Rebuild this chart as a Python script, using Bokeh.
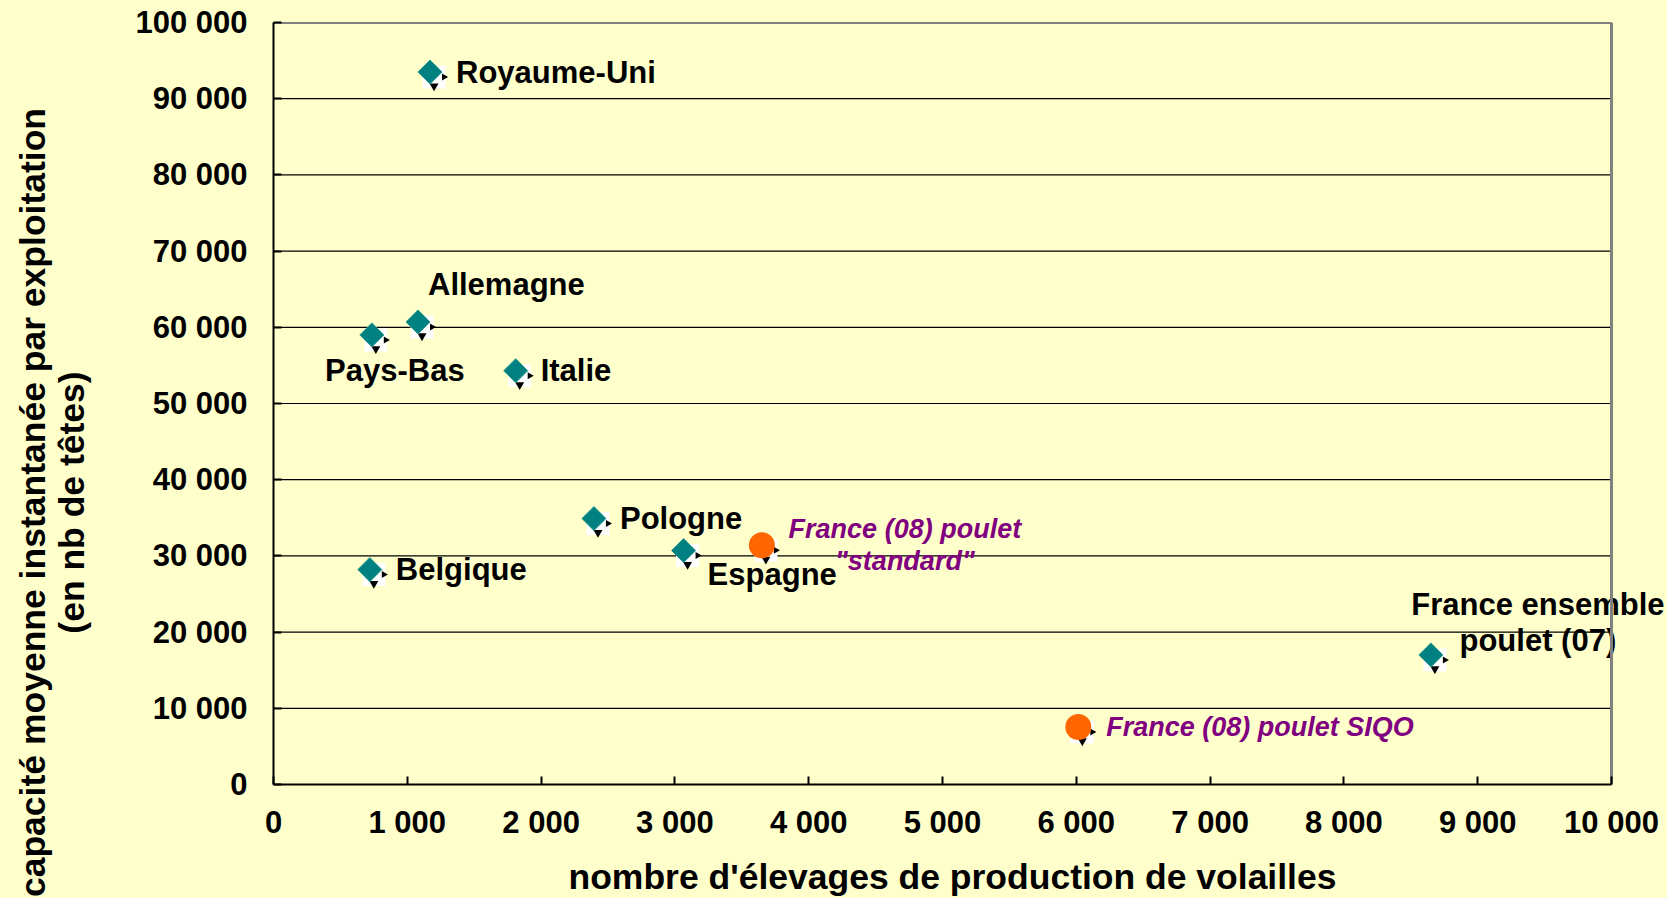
import numpy as np
from bokeh.plotting import figure
from bokeh.layouts import row, column
from bokeh.models import ColumnDataSource, Range1d, FixedTicker
from bokeh.transform import dodge
from bokeh.core.properties import value
from bokeh.embed import file_html
from bokeh.resources import INLINE

# ---------------- data ----------------
countries = ["Royaume-Uni", "Allemagne", "Pays-Bas", "Italie", "Pologne",
             "Espagne", "Belgique", "France ensemble\npoulet (07)"]
elevages = [1170, 1080, 735, 1810, 2395, 3065, 720, 8650]
capacite = [93500, 60700, 59000, 54300, 34900, 30700, 28200, 17000]

france_labels = ["France (08) poulet\n\"standard\"", "France (08) poulet SIQO"]
france_elevages = [3650, 6015]
france_capacite = [31400, 7550]

x_ticks = list(range(0, 10001, 1000))
y_ticks = list(range(0, 100001, 10000))

x_title = "nombre d'élevages de production de volailles"
y_title = "capacité moyenne instantanée par exploitation\n(en nb de têtes)"

# ---------------- label placement (pixels, +y = down) ----------------
c_dx = [26, 10, 23, 25, 26, 24, 26, 107]
c_dy = [0, -37, 36, 0, 0, 24, 0, -32]
c_align = ["left", "left", "center", "left", "left", "left", "left", "center"]
f_dx = [143, 28]
f_dy = [0, 0]
f_align = ["center", "left"]

BG = "#FFFFCC"
FONT = "Liberation Sans"

# ---------------- layout geometry ----------------
TOTAL_W, TOTAL_H = 1667, 898
LEFT_W = 100            # strip holding the y title
BOTTOM_H = 50           # strip holding the x title
MAIN_W = TOTAL_W - LEFT_W
MAIN_H = TOTAL_H - BOTTOM_H
ML, MT, MB = 173, 22, 64
FW = MAIN_W - ML        # frame runs to the right edge (labels overflow the box)
FH = MAIN_H - MT - MB
BOX_W = 1338            # width of the plotted box (0..10 000)

x0, xb = x_ticks[0], x_ticks[-1]
y0, y1 = y_ticks[0], y_ticks[-1]
px_x = (xb - x0) / BOX_W
px_y = (y1 - y0) / FH
x1 = x0 + FW * px_x

p = figure(width=MAIN_W, height=MAIN_H, output_backend="svg", toolbar_location=None,
           x_range=Range1d(x0, x1), y_range=Range1d(y0, y1),
           min_border_left=ML, min_border_right=0, min_border_top=MT, min_border_bottom=MB)
p.background_fill_color = BG
p.border_fill_color = BG
p.outline_line_color = None

fmt = lambda t: f"{t:,}".replace(",", " ")
for ax, ticks in ((p.xaxis[0], x_ticks), (p.yaxis[0], y_ticks)):
    ax.ticker = FixedTicker(ticks=ticks, minor_ticks=[])
    ax.major_label_overrides = {t: fmt(t) for t in ticks}
    ax.major_label_text_font = FONT
    ax.major_label_text_font_style = "bold"
    ax.major_label_text_font_size = "31px"
    ax.major_label_text_color = "black"
    ax.axis_line_color = "black"
    ax.axis_line_width = 2
    ax.major_tick_in = 8
    ax.major_tick_out = 0
    ax.major_tick_line_color = "black"
    ax.major_tick_line_width = 2
    ax.minor_tick_line_color = None
p.xaxis.bounds = (x0, xb)
p.xaxis.major_label_standoff = 20
p.yaxis.major_label_standoff = 26
p.grid.visible = False

# horizontal grid lines, limited to the box
p.segment(x0=[x0] * len(y_ticks), x1=[xb] * len(y_ticks), y0=y_ticks, y1=y_ticks,
          line_color="black", line_width=1.2)

src_c = ColumnDataSource(dict(x=elevages, y=capacite, t=countries,
                              dx=c_dx, dy=c_dy, al=c_align))
src_f = ColumnDataSource(dict(x=france_elevages, y=france_capacite, t=france_labels,
                              dx=f_dx, dy=f_dy, al=f_align))

# marker shadows (spreadsheet artefact)
for src in (src_c, src_f):
    p.scatter(x=dodge("x", 4 * px_x), y=dodge("y", -5 * px_y), source=src,
              marker="square", size=23, fill_color="white", line_color=None)
    p.scatter(x=dodge("x", 14 * px_x), y=dodge("y", -5 * px_y), source=src,
              marker="triangle", angle=-np.pi / 2, size=7, fill_color="black", line_color=None)
    p.scatter(x=dodge("x", 4 * px_x), y=dodge("y", -14 * px_y), source=src,
              marker="inverted_triangle", size=9, fill_color="black", line_color=None)

p.scatter(x="x", y="y", source=src_c, marker="square", angle=np.pi / 4, size=17,
          fill_color="#008080", line_color="#2E9C8C", line_width=1)
p.scatter(x="x", y="y", source=src_f, marker="circle", size=26,
          fill_color="#FF6600", line_color=None)

p.text(x="x", y="y", text="t", source=src_c, x_offset="dx", y_offset="dy",
       text_align="al", text_baseline="middle", text_font=value(FONT),
       text_font_style="bold", text_font_size="31px", text_color="black",
       text_line_height=1.03)
p.text(x="x", y="y", text="t", source=src_f, x_offset="dx", y_offset="dy",
       text_align="al", text_baseline="middle", text_font=value(FONT),
       text_font_style="bold italic", text_font_size="27px", text_color="#800080",
       text_line_height=1.07)

# box border (top and right in grey)
p.segment(x0=[x0, xb], y0=[y1, y0], x1=[xb, xb], y1=[y1, y1],
          line_color="#808080", line_width=3)

# ---------------- title strips ----------------
def strip(w, h, left_border=0):
    f = figure(width=w, height=h, output_backend="svg", toolbar_location=None,
               x_range=Range1d(0, w - left_border), y_range=Range1d(0, h),
               x_axis_location=None, y_axis_location=None,
               min_border_left=left_border, min_border_right=0,
               min_border_top=0, min_border_bottom=0)
    f.background_fill_color = BG
    f.border_fill_color = BG
    f.outline_line_color = None
    f.grid.visible = False
    return f

left = strip(LEFT_W, TOTAL_H)
left.text(x=[52], y=[TOTAL_H - 502], text=[y_title], angle=np.pi / 2,
          text_align="center", text_baseline="middle", text_font=value(FONT),
          text_font_style="bold", text_font_size="35.5px", text_color="black",
          text_line_height=0.98)

# bottom strip shares the main plot's left border (column aligns frames)
bottom = strip(MAIN_W, BOTTOM_H, left_border=ML)
bottom.text(x=[568 - LEFT_W - ML], y=[TOTAL_H - 876], text=[x_title],
            text_align="left", text_baseline="middle", text_font=value(FONT),
            text_font_style="bold", text_font_size="35.5px", text_color="black")

col = column(p, bottom, spacing=0, styles={"background-color": BG})
layout = row(left, col, spacing=0, styles={"background-color": BG})
open("out.html", "w").write(file_html(layout, INLINE))
